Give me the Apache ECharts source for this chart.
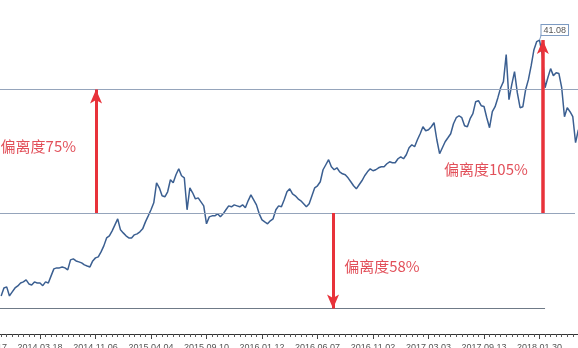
<!DOCTYPE html>
<html><head><meta charset="utf-8">
<script src="https://cdn.jsdelivr.net/npm/echarts@6/dist/echarts.min.js"></script>
<style>html,body{margin:0;padding:0;background:#fff;overflow:hidden}#c{width:578px;height:348px}</style>
</head><body><div id="c"></div>
<script>
// tick labels for the major ticks (one per 10 x-units)
const tickLabels = ['2013.10.17','2014.03.18','2014.11.06','2015.04.04','2015.09.10','2016.01.12','2016.06.07','2016.11.02','2017.03.03','2017.09.13','2018.01.30',''];
// price series, evenly spaced along the axis
const startX = 3, stepX = 0.5;
const values = [
 9.95,10.92,11.05,9.95,10.44,10.92,11.17,11.53,11.66,11.90,
 11.41,11.29,11.66,11.53,11.53,11.20,11.66,11.53,12.39,13.24,
 13.36,13.36,13.48,13.36,13.12,14.34,14.46,14.21,14.09,13.97,
 13.73,13.60,13.48,14.21,14.58,14.70,15.31,16.04,17.01,17.26,
 17.87,18.60,19.33,17.99,17.62,17.26,17.01,17.01,17.38,17.50,
 17.75,18.11,18.96,19.69,20.43,21.28,23.71,23.10,22.13,22.01,
 22.62,24.08,23.71,24.69,25.42,24.57,24.32,20.43,23.10,22.50,
 21.76,21.88,21.40,20.91,18.72,19.57,19.69,19.69,19.94,19.57,
 19.94,20.43,20.91,20.79,21.03,20.91,20.79,21.03,20.67,21.52,
 22.25,21.64,21.03,19.94,19.21,18.96,18.72,19.09,19.33,20.43,
 20.91,20.79,21.64,22.62,22.98,22.37,22.13,21.76,21.52,21.16,
 20.79,21.16,22.13,23.10,23.35,23.84,25.30,25.91,26.52,25.66,
 25.30,25.54,25.05,24.81,24.69,24.32,23.84,23.35,22.98,23.47,
 23.96,24.57,25.05,25.42,25.18,25.30,25.54,25.66,25.66,26.03,
 26.27,26.15,26.15,26.64,26.88,26.64,27.12,27.98,28.34,28.10,
 28.95,29.68,30.53,30.05,30.17,30.53,31.02,28.95,27.25,27.98,
 28.71,29.19,29.68,30.90,31.63,31.87,31.63,30.66,30.53,31.51,
 32.12,33.58,33.70,33.09,33.00,31.63,30.41,32.36,32.97,34.07,
 35.28,36.02,39.30,33.82,35.65,37.23,34.68,32.85,32.97,35.04,
 36.26,37.96,39.91,40.89,41.08,39.30,35.28,36.50,37.60,36.75,
 37.11,37.00,35.28,31.75,32.85,32.36,31.75,28.59,30.17
];
// reference levels
const midLevel = 20.04;
const topLevel = 35.07;
const bottomLevel = 8.42;
const peakValue = 41.08;
const deviationTexts = ['偏离度75%','偏离度58%','偏离度105%'];

const seriesData = values.map((v, i) => [startX + stepX * i, v]);
let peakIdx = 0;
values.forEach((v, i) => { if (v > values[peakIdx]) peakIdx = i; });
const peakX = startX + stepX * peakIdx;

const red = '#e8323a';
const textRed = '#e2505a';
const txt = (x, y, t) => ({
  coord: [x, y], symbol: 'circle', symbolSize: 0,
  label: { show: true, position: 'right', distance: 0, formatter: t,
    fontSize: 15, color: textRed, fontFamily: 'Noto Sans CJK SC' }
});
const hline = (x1, x2, y, color) => [
  { coord: [x1, y], symbol: 'none', lineStyle: { color: color, width: 1, type: 'solid' } },
  { coord: [x2, y], symbol: 'none' }
];
const arrow = (x, y1, y2, w) => [
  { coord: [x, y1], symbol: 'none', lineStyle: { color: red, width: w, type: 'solid' } },
  { coord: [x, y2], symbol: 'arrow', symbolSize: [9, 14] }
];

const chart = echarts.init(document.getElementById('c'), null, { renderer: 'canvas' });
chart.setOption({
  animation: false,
  grid: { left: -15.5, right: -17, top: 0, bottom: 14, containLabel: false, outerBoundsMode: 'none' },
  xAxis: {
    type: 'value', min: 0, max: 110, interval: 10,
    axisLine: { show: true, lineStyle: { color: '#333', width: 1 } },
    axisTick: { show: true, length: 5, lineStyle: { color: '#444' } },
    minorTick: { show: true, splitNumber: 10, length: 3, lineStyle: { color: '#555' } },
    splitLine: { show: false },
    minorSplitLine: { show: false },
    axisLabel: {
      show: true, fontSize: 9, color: '#555', margin: 9,
      showMinLabel: true, showMaxLabel: false, hideOverlap: false,
      formatter: v => tickLabels[Math.round(v / 10)] || ''
    }
  },
  yAxis: { type: 'value', min: 5.32, max: 45.95, show: false, splitLine: { show: false } },
  series: [{
    type: 'line',
    data: seriesData,
    symbol: 'none',
    lineStyle: { color: '#3b5f91', width: 1.5 },
    z: 3,
    markLine: {
      silent: true, animation: false,
      label: { show: false },
      emphasis: { disabled: true },
      data: [
        hline(0, 110, topLevel, '#95a4bb'),
        hline(0, 106.4, midLevel, '#95a4bb'),
        hline(0, 101, bottomLevel, '#6f7a87'),
        arrow(20.1, midLevel, topLevel, 3),
        arrow(62.8, midLevel, bottomLevel, 3),
        arrow(100.6, midLevel, peakValue, 3.5),
        [
          { coord: [peakX, peakValue], symbol: 'none', lineStyle: { color: '#7c9ac2', width: 1, type: 'solid' } },
          { coord: [peakX + 0.55, peakValue + 1.1], symbol: 'none' }
        ]
      ]
    },
    markPoint: {
      silent: true, animation: false,
      data: [
        { type: 'max', symbol: 'circle', symbolSize: 0,
          label: { show: true, position: [2, -15], formatter: p => Number(p.value).toFixed(2),
            fontSize: 9, color: '#555', backgroundColor: '#fff', borderColor: '#7c9ac2',
            borderWidth: 1, padding: [1, 2, 0, 2], fontFamily: 'Liberation Sans' } },
        txt(2.9, 28.1, deviationTexts[0]),
        txt(64.8, 13.54, deviationTexts[1]),
        txt(82.8, 25.3, deviationTexts[2])
      ]
    }
  }]
});
</script>
</body></html>
